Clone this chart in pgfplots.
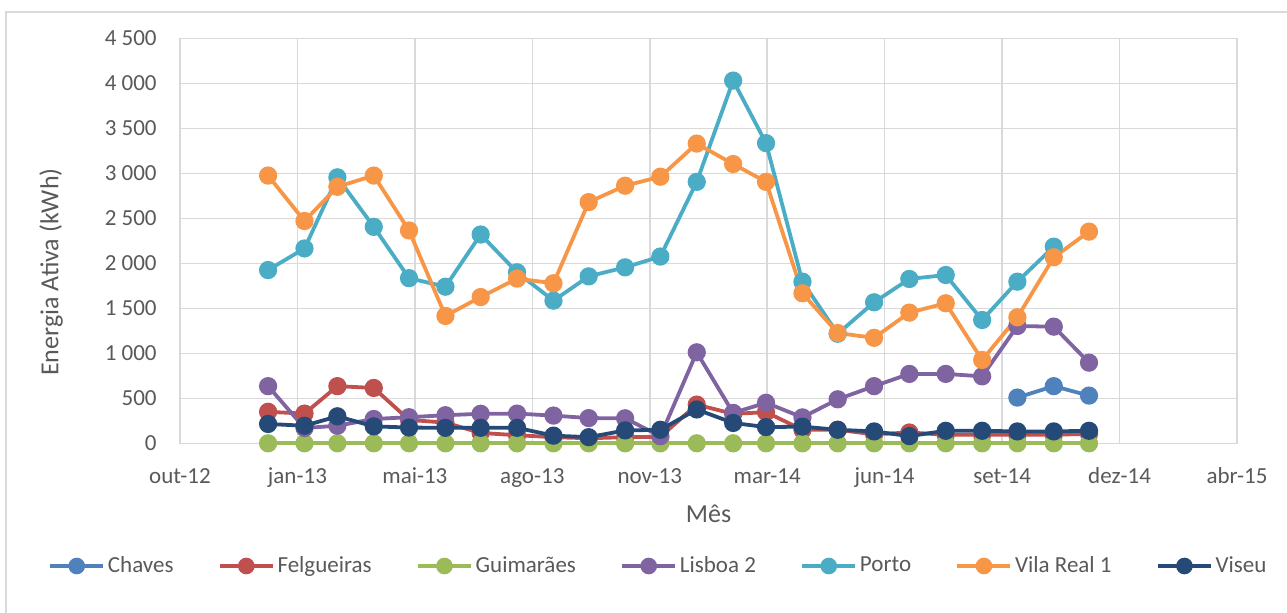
\documentclass[border=0pt]{standalone}
\usepackage{fontspec}
\setmainfont{Carlito}
\usepackage{pgfplots}
\usepackage{pgfplotstable}
\pgfplotsset{compat=1.18}

\definecolor{chavesc}{HTML}{4F81BD}
\definecolor{felgc}{HTML}{C0504D}
\definecolor{guimc}{HTML}{9BBB59}
\definecolor{lisbc}{HTML}{8064A2}
\definecolor{portoc}{HTML}{4BACC6}
\definecolor{vilac}{HTML}{F79646}
\definecolor{viseuc}{HTML}{264A78}
\definecolor{gridc}{HTML}{D9D9D9}
\definecolor{labc}{HTML}{595959}

% d = days since 18 Oct 2012 (Excel serial 41200)
\pgfplotstableread{
d   chaves felg guim lisb porto vila viseu
75  nan    350  0    635  1925  2975 215
106 nan    330  0    170  2165  2470 195
134 nan    635  0    195  2955  2850 300
165 nan    615  0    270  2405  2975 188
195 nan    260  0    290  1835  2365 175
226 nan    230  0    312  1740  1415 172
256 nan    115  0    328  2320  1625 172
287 nan    90   0    330  1900  1830 172
318 nan    68   0    308  1585  1778 85
348 nan    56   0    280  1855  2680 68
379 nan    68   0    278  1955  2862 143
409 nan    72   0    78   2075  2962 150
440 nan    430  0    1011 2905  3330 376
471 nan    327  0    338  4030  3103 226
499 nan    346  0    450  3335  2905 180
530 nan    150  0    288  1796  1667 185
560 nan    150  0    489  1217  1225 150
591 nan    100  0    635  1567  1172 132
621 nan    120  0    771  1826  1452 80
652 nan    95   0    771  1870  1556 139
683 nan    95   0    744  1370  926  139
713 508    95   0    1303 1796  1400 132
744 635    95   0    1296 2185  2067 132
774 530    105  0    896  nan   2352 139
}\energia

\begin{document}
\begin{tikzpicture}
  \path[use as bounding box] (0,0) rectangle (643.5pt,306pt);
  \draw[gridc, line width=0.75pt] (3pt,-5pt) -- (3pt,300pt) -- (650pt,300pt);
  \begin{axis}[
      at={(90pt,84.35pt)}, anchor=south west,
      scale only axis, width=528.5pt, height=202.5pt,
      xmin=0, xmax=900, ymin=0, ymax=4500,
      xtick={0,100,...,900},
      xticklabels={out-12,jan-13,mai-13,ago-13,nov-13,mar-14,jun-14,set-14,dez-14,abr-15},
      ytick={0,500,...,4500},
      yticklabels={0,500,1 000,1 500,2 000,2 500,3 000,3 500,4 000,4 500},
      scaled x ticks=false,
      xmajorgrids, ymajorgrids,
      grid style={gridc, line width=0.75pt},
      axis line style={gridc, line width=0.75pt},
      major tick length=0pt,
      tick label style={font=\fontsize{11.5}{13}\selectfont, text=labc},
      xticklabel style={anchor=base, yshift=-20pt},
      yticklabel style={anchor=east, inner sep=0pt, xshift=-11.5pt},
      clip=false,
      every axis plot/.append style={line width=1.9pt, mark=*, mark size=3.6pt},
      legend image code/.code={\draw[mark repeat=2, mark phase=2]
        plot coordinates {(0pt,0pt) (13.25pt,0pt) (26.5pt,0pt)};},
      legend image post style={mark size=3.2pt},
      legend columns=7,
      legend style={at={(0.453,-0.303)}, anchor=center, draw=none, fill=none,
        font=\fontsize{11.5}{13}\selectfont, text=labc,
        nodes={inner sep=1.4pt},
        /tikz/every even column/.append style={column sep=20.8pt}},
    ]
    \addplot[chavesc, mark options={fill=chavesc, draw=chavesc}] table[x=d, y=chaves] {\energia};
    \addlegendentry{Chaves}
    \addplot[felgc, mark options={fill=felgc, draw=felgc}] table[x=d, y=felg] {\energia};
    \addlegendentry{Felgueiras}
    \addplot[guimc, mark options={fill=guimc, draw=guimc}] table[x=d, y=guim] {\energia};
    \addlegendentry{Guimarães}
    \addplot[lisbc, mark options={fill=lisbc, draw=lisbc}] table[x=d, y=lisb] {\energia};
    \addlegendentry{Lisboa 2}
    \addplot[portoc, mark options={fill=portoc, draw=portoc}] table[x=d, y=porto] {\energia};
    \addlegendentry{Porto}
    \addplot[vilac, mark options={fill=vilac, draw=vilac}] table[x=d, y=vila] {\energia};
    \addlegendentry{Vila Real 1}
    \addplot[viseuc, mark options={fill=viseuc, draw=viseuc}] table[x=d, y=viseu] {\energia};
    \addlegendentry{Viseu}
  \end{axis}
  \node[rotate=90, anchor=base, font=\fontsize{13}{15}\selectfont, text=labc]
    at (29.15pt,169.9pt) {Energia Ativa (kWh)};
  \node[anchor=base, font=\fontsize{13}{15}\selectfont, text=labc]
    at (354.25pt,44.65pt) {Mês};
\end{tikzpicture}
\end{document}
